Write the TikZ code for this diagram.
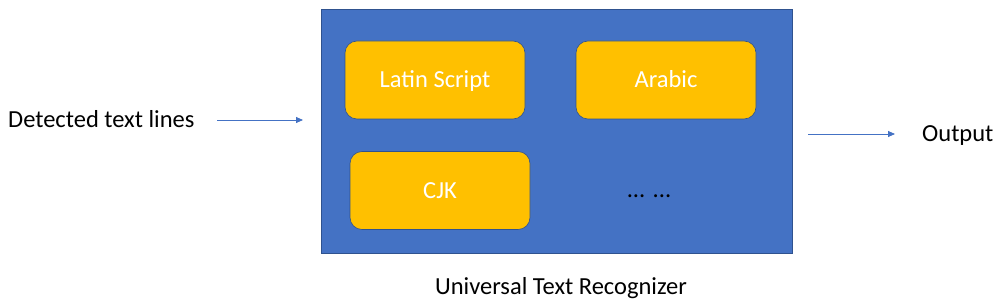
\documentclass[tikz,border=0pt]{standalone}
\usepackage{fontspec}
\setmainfont{Carlito}
\usetikzlibrary{arrows.meta}
\definecolor{blu}{HTML}{4472C4}
\definecolor{edge}{HTML}{2F528F}
\definecolor{gold}{HTML}{FFC000}
\tikzset{
  langbox/.style={draw=edge, line width=0.6pt, fill=gold, rounded corners=12pt, text=white, font=\fontsize{24.5}{28}\selectfont, minimum width=180pt, minimum height=78pt, inner sep=0pt, text height=15.5pt, text depth=0pt},
  lbl/.style={font=\fontsize{24.5}{28}\selectfont, text=black, inner sep=0pt, text height=15.5pt, text depth=0pt},
  flow/.style={draw=blu, line width=0.8pt, -{Triangle[length=7pt,width=6pt]}}
}
\begin{document}
\begin{tikzpicture}[x=1pt,y=-1pt]
\useasboundingbox (0,0) rectangle (999,302);
\node[draw=edge, line width=0.6pt, fill=blu, minimum width=471pt, minimum height=244pt, inner sep=0pt] (urec) at (556.5,131) {};
\node[langbox] (latin) at (435,80) {Latin Script};
\node[langbox] (arabic) at (666,80) {Arabic};
\node[langbox] (cjk) at (440,190.5) {CJK};
\node[lbl] (dots) at (649,190) {... ...};
\node[lbl, anchor=west] (inp) at (8,120) {Detected text lines};
\node[lbl, anchor=west] (out) at (922,134) {Output};
\node[lbl] (title) at (561,287) {Universal Text Recognizer};
\coordinate (ia) at (217,120);
\coordinate (ib) at (303,120);
\coordinate (oa) at (808,134);
\coordinate (ob) at (895,134);
\draw[flow] (ia) -- (ib);
\draw[flow] (oa) -- (ob);
\end{tikzpicture}
\end{document}
